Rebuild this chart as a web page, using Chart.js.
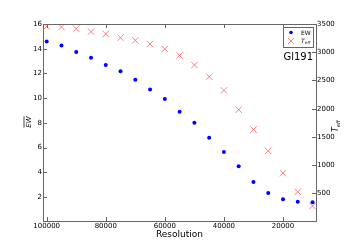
<!DOCTYPE html>
<html><head><meta charset="utf-8">
<script src="https://cdn.jsdelivr.net/npm/chart.js@4/dist/chart.umd.min.js"></script>
<style>html,body{margin:0;padding:0;background:#fff;}#wrap{width:351px;height:247px;}</style>
</head><body><div id="wrap"><canvas id="c" width="351" height="247"></canvas></div>
<script>
const resolution = [100000,95000,90000,85000,80000,75000,70000,65000,60000,55000,50000,45000,40000,35000,30000,25000,20000,15000,10000];
const ewValues = [14.59,14.27,13.73,13.27,12.68,12.17,11.49,10.71,9.93,8.90,8.01,6.80,5.64,4.48,3.22,2.33,1.81,1.62,1.57];
const teffValues = [3458,3447,3417,3364,3323,3257,3210,3146,3057,2944,2774,2567,2324,1982,1630,1253,858,528,277];
const xTicks = [100000,80000,60000,40000,20000];
const leftTicks = [2,4,6,8,10,12,14,16];
const rightTicks = [500,1000,1500,2000,2500,3000,3500];
const starName = "Gl191";

const FRAME = '#666';
const FONT = "'DejaVu Sans', sans-serif";

const extras = {
  id: 'extras',
  afterDraw(chart) {
    const ctx = chart.ctx, a = chart.chartArea;
    const sx = chart.scales.x, sy = chart.scales.y, sy1 = chart.scales.y1;
    ctx.save();
    ctx.strokeStyle = FRAME; ctx.lineWidth = 1;
    ctx.strokeRect(Math.round(a.left)+0.5, Math.round(a.top)+0.5, Math.round(a.right-a.left), Math.round(a.bottom-a.top));
    ctx.beginPath();
    xTicks.forEach(v => { const p = Math.round(sx.getPixelForValue(v))+0.5;
      ctx.moveTo(p, a.bottom); ctx.lineTo(p, a.bottom-4);
      ctx.moveTo(p, a.top); ctx.lineTo(p, a.top+4); });
    leftTicks.forEach(v => { const p = Math.round(sy.getPixelForValue(v))+0.5;
      ctx.moveTo(a.left, p); ctx.lineTo(a.left+4, p); });
    rightTicks.forEach(v => { const p = Math.round(sy1.getPixelForValue(v))+0.5;
      ctx.moveTo(a.right, p); ctx.lineTo(a.right-4, p); });
    ctx.stroke();
    // left y label with overline
    ctx.fillStyle = '#000';
    ctx.font = "italic 7px " + FONT;
    ctx.save();
    ctx.translate(29, 122); ctx.rotate(-Math.PI/2);
    ctx.textAlign = 'center'; ctx.textBaseline = 'middle';
    ctx.fillText('EW', 0, 0);
    const w = ctx.measureText('EW').width;
    ctx.beginPath(); ctx.strokeStyle = '#000'; ctx.lineWidth = 0.7;
    ctx.moveTo(-w/2, -5); ctx.lineTo(w/2, -5); ctx.stroke();
    ctx.restore();
    // right y label T_eff
    ctx.save();
    ctx.translate(336, 125); ctx.rotate(-Math.PI/2);
    ctx.textBaseline = 'middle'; ctx.textAlign = 'left';
    ctx.font = "italic 8px " + FONT;
    const tw = ctx.measureText('T').width;
    ctx.fillText('T', -7, 0);
    ctx.font = "italic 5px " + FONT;
    ctx.fillText('eff', -7 + tw, 2.5);
    ctx.restore();
    // legend
    const lx = 283, ly = 27, lw = 30, lh = 20;
    ctx.fillStyle = '#fff'; ctx.fillRect(lx, ly, lw, lh);
    ctx.strokeStyle = FRAME; ctx.lineWidth = 1; ctx.strokeRect(lx+0.5, ly+0.5, lw, lh);
    ctx.fillStyle = '#0000ff';
    ctx.beginPath(); ctx.arc(291, 32.5, 1.8, 0, Math.PI*2); ctx.fill();
    ctx.strokeStyle = '#ff6060'; ctx.lineWidth = 0.8;
    ctx.beginPath(); ctx.moveTo(288, 38); ctx.lineTo(294, 44); ctx.moveTo(294, 38); ctx.lineTo(288, 44); ctx.stroke();
    ctx.fillStyle = '#000'; ctx.textBaseline = 'middle'; ctx.textAlign = 'left';
    ctx.font = "6px " + FONT; ctx.fillText('EW', 301, 33);
    ctx.font = "italic 6px " + FONT; ctx.fillText('T', 301, 41);
    ctx.font = "italic 4px " + FONT; ctx.fillText('eff', 305, 43);
    ctx.font = "10px " + FONT; ctx.textAlign = 'right'; ctx.textBaseline = 'middle';
    ctx.fillText(starName, 313, 57);
    ctx.restore();
  }
};

new Chart(document.getElementById('c'), {
  type: 'scatter',
  data: {
    datasets: [
      { label: 'EW', data: resolution.map((r,i)=>({x:r,y:ewValues[i]})), yAxisID: 'y',
        pointStyle: 'circle', pointRadius: 2, backgroundColor: '#0000ff', borderColor: '#0000ff', borderWidth: 0 },
      { label: 'Teff', data: resolution.map((r,i)=>({x:r,y:teffValues[i]})), yAxisID: 'y1',
        pointStyle: 'cross', rotation: 45, pointRadius: 4.5, borderColor: '#ff6060', backgroundColor: '#ff6060', borderWidth: 0.8 }
    ]
  },
  options: {
    responsive: false, animation: false, devicePixelRatio: 1,
    layout: { padding: { top: 24, left: 0, right: 0, bottom: 7 } },
    plugins: { legend: { display: false }, tooltip: { enabled: false } },
    scales: {
      x: { type: 'linear', reverse: true, min: 8830, max: 101250,
        afterFit(s){ s.height = 19; },
        afterBuildTicks(s){ s.ticks = xTicks.map(v=>({value:v})); },
        grid: { display: false, drawTicks: false }, border: { display: false },
        ticks: { color: '#000', font: { size: 7, family: FONT }, padding: 1, maxRotation: 0, autoSkip: false,
          callback: v => String(v) },
        title: { display: true, text: 'Resolution', color: '#000', font: { size: 9, family: FONT }, padding: { top: 0, bottom: 0 } }
      },
      y: { position: 'left', min: 0.06, max: 16,
        afterFit(s){ s.width = 43; },
        afterBuildTicks(s){ s.ticks = leftTicks.map(v=>({value:v})); },
        grid: { display: false, drawTicks: false }, border: { display: false },
        ticks: { color: '#000', font: { size: 7, family: FONT }, padding: 1, autoSkip: false, callback: v => String(v) }
      },
      y1: { position: 'right', min: 11, max: 3500,
        afterFit(s){ s.width = 35; },
        afterBuildTicks(s){ s.ticks = rightTicks.map(v=>({value:v})); },
        grid: { display: false, drawTicks: false }, border: { display: false },
        ticks: { color: '#000', font: { size: 7, family: FONT }, padding: 1, autoSkip: false, callback: v => String(v) }
      }
    }
  },
  plugins: [extras]
});
</script></body></html>
